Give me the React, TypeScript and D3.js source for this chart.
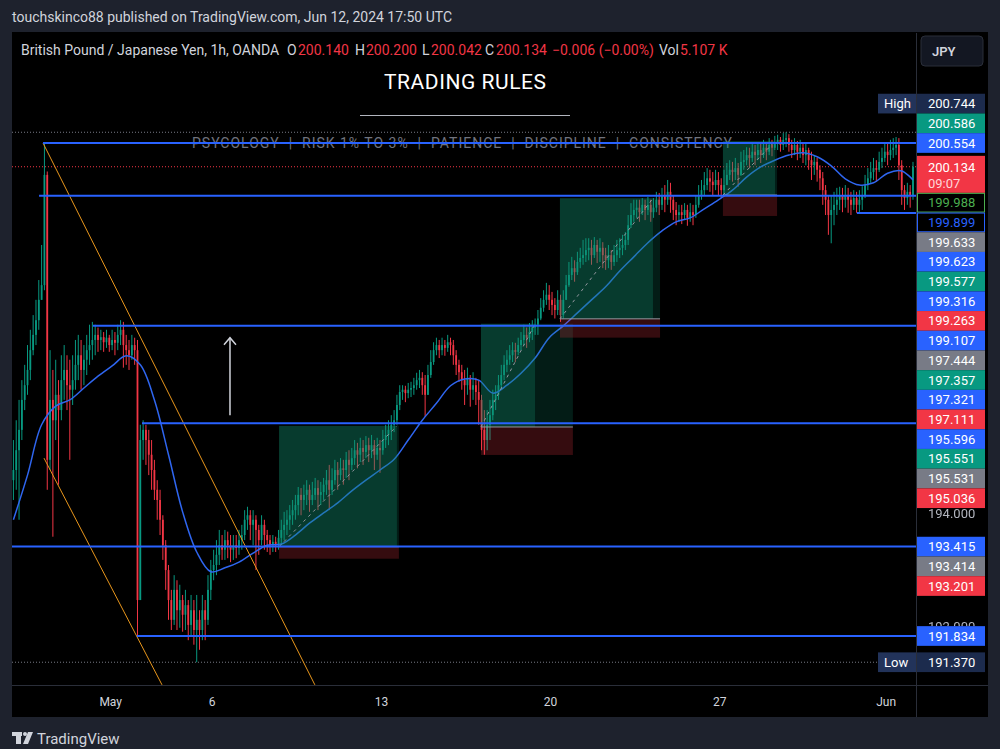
import React from 'react';
import * as d3 from 'd3';

// GBPJPY 1h (drawn as 2h bars), OANDA
const firstOpen = 194.59;

const closes = [
  194.77, 195.12, 195.48, 196.01, 196.27, 196.54, 196.89, 197.16, 197.42, 197.78,
  198.04, 199.99, 194.95, 196.01, 195.65, 196.10, 195.83, 196.36, 196.54, 196.27,
  196.19, 196.36, 196.63, 196.80, 196.54, 196.72, 196.89, 196.98, 197.07, 197.16,
  197.07, 197.12, 197.03, 197.11, 196.98, 197.07, 197.02, 197.16, 197.25, 196.98,
  196.89, 196.80, 196.98, 196.89, 192.47, 195.30, 195.48, 195.30, 195.04, 194.77,
  194.42, 194.24, 193.89, 193.44, 193.00, 192.47, 192.12, 192.65, 192.29, 192.47,
  192.21, 192.38, 192.03, 192.29, 191.94, 192.12, 191.94, 192.29, 192.12, 192.65,
  193.00, 193.09, 193.27, 193.44, 193.36, 193.53, 193.44, 193.36, 193.44, 193.39,
  193.53, 193.62, 193.89, 193.97, 193.80, 193.89, 193.71, 193.53, 193.80, 193.62,
  193.53, 193.44, 193.50, 193.44, 193.57, 193.71, 193.80, 193.89, 193.97, 194.06,
  194.15, 194.33, 194.24, 194.33, 194.42, 194.24, 194.33, 194.45, 194.33, 194.38,
  194.51, 194.59, 194.42, 194.59, 194.77, 194.68, 194.80, 194.77, 194.95, 194.86,
  194.98, 195.12, 195.04, 195.16, 195.09, 195.21, 195.12, 195.21, 195.04, 195.16,
  195.12, 195.30, 195.39, 195.48, 195.57, 195.65, 195.92, 196.15, 196.19, 196.13,
  196.19, 196.22, 196.27, 196.36, 196.40, 196.27, 196.10, 196.45, 196.68, 196.89,
  196.98, 196.89, 196.98, 196.93, 197.03, 196.98, 196.80, 196.63, 196.50, 196.36,
  196.27, 196.40, 196.19, 196.27, 196.15, 196.01, 195.48, 195.30, 195.57, 195.74,
  196.01, 196.10, 196.27, 196.45, 196.63, 196.72, 196.80, 196.89, 196.86, 196.98,
  197.07, 197.16, 197.11, 197.21, 197.29, 197.34, 197.45, 197.64, 197.78, 197.87,
  197.78, 197.69, 197.60, 197.78, 197.51, 197.78, 198.04, 198.22, 198.34, 198.27,
  198.45, 198.52, 198.57, 198.66, 198.70, 198.57, 198.75, 198.63, 198.70, 198.57,
  198.48, 198.57, 198.45, 198.57, 198.66, 198.70, 198.75, 198.84, 199.10, 199.28,
  199.37, 199.41, 199.33, 199.46, 199.37, 199.46, 199.33, 199.41, 199.55, 199.46,
  199.63, 199.55, 199.69, 199.55, 199.37, 199.28, 199.33, 199.28, 199.37, 199.23,
  199.33, 199.28, 199.46, 199.63, 199.72, 199.81, 199.93, 199.87, 199.81, 199.90,
  199.81, 199.72, 199.81, 199.99, 200.08, 200.04, 200.11, 199.99, 200.22, 200.25,
  200.34, 200.29, 200.40, 200.34, 200.43, 200.34, 200.47, 200.40, 200.52, 200.47,
  200.57, 200.61, 200.52, 200.61, 200.64, 200.52, 200.43, 200.52, 200.40, 200.47,
  200.34, 200.43, 200.25, 200.16, 200.22, 200.08, 199.93, 199.72, 199.55, 199.28,
  199.37, 199.46, 199.55, 199.63, 199.55, 199.63, 199.55, 199.46, 199.58, 199.46,
  199.55, 199.63, 199.81, 199.93, 200.04, 200.11, 200.08, 200.22, 200.29, 200.40,
  200.34, 200.43, 200.47, 200.52, 200.16, 199.72, 199.58, 199.69, 199.63, 200.134,
];

const highs = [
  195.30, 195.65, 196.01, 196.36, 196.63, 196.98, 197.25, 197.51, 197.78, 198.13,
  198.75, 200.554, 200.05, 196.89, 196.54, 196.72, 196.36, 196.80, 196.98, 196.80,
  196.72, 196.80, 197.07, 197.16, 197.07, 196.98, 197.16, 197.34, 197.39, 197.34,
  197.29, 197.25, 197.21, 197.25, 197.16, 197.25, 197.21, 197.34, 197.42, 197.39,
  197.16, 197.07, 197.16, 197.11, 197.07, 195.57, 195.65, 195.57, 195.48, 195.30,
  194.95, 194.59, 194.42, 193.97, 193.53, 193.09, 192.65, 192.91, 192.82, 192.74,
  192.56, 192.65, 192.47, 192.56, 192.47, 192.56, 192.29, 192.56, 192.47, 192.91,
  193.18, 193.36, 193.53, 193.71, 193.62, 193.71, 193.68, 193.62, 193.62, 193.62,
  193.71, 193.80, 194.06, 194.12, 194.06, 194.06, 193.97, 193.80, 193.97, 193.89,
  193.71, 193.62, 193.62, 193.59, 193.71, 193.89, 194.03, 194.06, 194.15, 194.24,
  194.33, 194.47, 194.45, 194.51, 194.59, 194.51, 194.56, 194.63, 194.59, 194.56,
  194.63, 194.77, 194.86, 194.80, 194.95, 194.91, 194.98, 194.95, 195.09, 195.12,
  195.16, 195.30, 195.25, 195.34, 195.30, 195.37, 195.34, 195.39, 195.30, 195.34,
  195.30, 195.48, 195.57, 195.65, 195.74, 195.83, 196.10, 196.27, 196.27, 196.26,
  196.31, 196.33, 196.40, 196.49, 196.54, 196.50, 196.45, 196.63, 196.89, 197.03,
  197.11, 197.07, 197.11, 197.07, 197.16, 197.11, 197.07, 196.89, 196.72, 196.63,
  196.54, 196.58, 196.45, 196.50, 196.40, 196.36, 196.10, 195.83, 195.83, 196.01,
  196.19, 196.27, 196.45, 196.63, 196.80, 196.89, 196.98, 197.03, 197.02, 197.11,
  197.21, 197.34, 197.29, 197.37, 197.42, 197.45, 197.60, 197.81, 197.95, 198.08,
  198.04, 197.92, 197.81, 197.95, 197.87, 197.95, 198.22, 198.45, 198.54, 198.48,
  198.63, 198.70, 198.84, 198.87, 198.87, 198.84, 198.89, 198.84, 198.87, 198.80,
  198.70, 198.75, 198.66, 198.75, 198.84, 198.87, 198.93, 198.98, 199.28, 199.49,
  199.55, 199.55, 199.55, 199.58, 199.55, 199.60, 199.55, 199.58, 199.69, 199.67,
  199.76, 199.81, 199.90, 199.85, 199.63, 199.51, 199.46, 199.46, 199.49, 199.46,
  199.49, 199.46, 199.62, 199.81, 199.90, 200.04, 200.11, 200.08, 200.04, 200.08,
  200.04, 199.93, 200.08, 200.20, 200.25, 200.22, 200.29, 200.20, 200.40, 200.43,
  200.48, 200.47, 200.54, 200.52, 200.57, 200.54, 200.61, 200.57, 200.64, 200.61,
  200.68, 200.70, 200.66, 200.73, 200.744, 200.71, 200.61, 200.64, 200.59, 200.61,
  200.55, 200.57, 200.47, 200.40, 200.34, 200.29, 200.16, 200.04, 199.81, 199.63,
  199.63, 199.69, 199.76, 199.78, 199.76, 199.81, 199.76, 199.69, 199.72, 199.69,
  199.72, 199.79, 199.99, 200.11, 200.22, 200.29, 200.25, 200.40, 200.47, 200.57,
  200.55, 200.61, 200.64, 200.66, 200.64, 200.25, 199.81, 199.85, 199.81, 200.22,
];

const lows = [
  194.24, 194.42, 193.89, 195.30, 195.83, 196.10, 196.36, 196.80, 196.98, 197.25,
  197.78, 197.95, 194.42, 194.77, 193.59, 195.30, 194.51, 195.65, 196.01, 195.83,
  194.95, 195.92, 196.19, 196.36, 196.19, 196.27, 196.45, 196.63, 196.72, 196.80,
  196.86, 196.89, 196.86, 196.93, 196.86, 196.89, 196.80, 196.89, 196.98, 196.58,
  196.63, 196.54, 196.72, 196.63, 191.83, 192.47, 194.95, 194.86, 194.68, 194.42,
  194.24, 193.89, 193.62, 193.18, 192.65, 192.12, 191.94, 192.03, 191.94, 191.98,
  191.91, 191.94, 191.76, 191.85, 191.68, 191.37, 191.59, 191.76, 191.76, 192.03,
  192.47, 192.82, 192.91, 193.09, 193.18, 193.18, 193.21, 193.14, 193.18, 193.21,
  193.27, 193.36, 193.53, 193.71, 193.53, 193.44, 193.00, 193.27, 193.44, 193.36,
  193.32, 193.27, 193.32, 193.32, 193.36, 193.44, 193.53, 193.62, 193.71, 193.80,
  193.89, 193.97, 193.97, 194.06, 194.15, 194.03, 194.15, 194.24, 194.06, 194.15,
  194.24, 194.33, 194.06, 194.33, 194.51, 194.42, 194.59, 194.51, 194.63, 194.59,
  194.77, 194.86, 194.80, 194.91, 194.86, 194.98, 194.91, 194.98, 194.77, 194.95,
  194.72, 195.04, 195.16, 195.21, 195.30, 195.44, 195.57, 195.83, 196.01, 195.97,
  196.04, 196.06, 196.10, 196.19, 196.22, 196.10, 195.71, 196.10, 196.40, 196.63,
  196.80, 196.75, 196.80, 196.79, 196.86, 196.80, 196.63, 196.45, 196.33, 196.19,
  195.92, 196.10, 195.89, 196.01, 195.92, 195.57, 195.12, 195.04, 195.12, 195.30,
  195.65, 195.83, 196.01, 196.19, 196.36, 196.50, 196.63, 196.68, 196.68, 196.80,
  196.89, 196.98, 196.93, 197.03, 197.07, 197.16, 197.16, 197.42, 197.57, 197.69,
  197.60, 197.51, 197.45, 197.51, 197.39, 197.45, 197.78, 198.01, 198.13, 198.10,
  198.22, 198.34, 198.40, 198.45, 198.48, 198.40, 198.52, 198.43, 198.45, 198.34,
  198.31, 198.34, 198.31, 198.38, 198.45, 198.52, 198.57, 198.66, 198.75, 199.05,
  199.16, 199.23, 199.16, 199.28, 199.19, 199.28, 199.16, 199.23, 199.33, 199.28,
  199.37, 199.33, 199.46, 199.32, 199.19, 199.10, 199.16, 199.12, 199.19, 199.09,
  199.16, 199.10, 199.23, 199.41, 199.55, 199.63, 199.72, 199.69, 199.63, 199.72,
  199.62, 199.58, 199.63, 199.81, 199.90, 199.87, 199.90, 199.78, 199.97, 200.08,
  200.16, 200.11, 200.22, 200.16, 200.25, 200.20, 200.29, 200.25, 200.34, 200.32,
  200.43, 200.43, 200.40, 200.43, 200.48, 200.40, 200.29, 200.34, 200.25, 200.29,
  200.20, 200.16, 200.08, 199.90, 199.99, 199.87, 199.72, 199.46, 199.28, 198.93,
  198.78, 199.10, 199.28, 199.37, 199.33, 199.41, 199.32, 199.28, 199.37, 199.32,
  199.33, 199.37, 199.58, 199.72, 199.85, 199.90, 199.87, 200.04, 200.11, 200.22,
  200.16, 200.25, 200.29, 200.34, 199.90, 199.46, 199.37, 199.46, 199.41, 199.55,
];

// moving average, one reading every 5 bars
const emaStep = 5;
const ema = [
  193.89, 194.68, 195.57, 195.90, 196.01, 196.22, 196.43, 196.61, 196.79, 196.63,
  196.01, 195.04, 194.03, 193.32, 192.97, 193.04, 193.14, 193.30, 193.44, 193.46,
  193.62, 193.83, 194.01, 194.19, 194.40, 194.59, 194.77, 194.96, 195.30, 195.65,
  195.95, 196.26, 196.38, 196.36, 196.13, 196.27, 196.48, 196.75, 197.11, 197.32,
  197.55, 197.78, 198.01, 198.29, 198.54, 198.79, 199.00, 199.16, 199.23, 199.39,
  199.55, 199.72, 199.95, 200.13, 200.25, 200.34, 200.38, 200.31, 200.15, 199.92,
  199.81, 199.85, 200.02, 200.06, 199.90,
];

const timeLabels = ['May', '6', '13', '20', '27', 'Jun'];
const timeLabelBars = [35, 71, 131, 191, 251, 310];

const priceTicks = [200, 199, 198, 197, 196, 195, 194, 193, 192];

// horizontal levels (price, first bar)
const levelPrices = [200.554, 199.623, 199.316, 197.321, 195.596, 193.415, 191.834];
const levelStarts = [11, 9.6, 299.6, 28.7, 46.1, -5, 44.3];

// long position tools
const posStart = [94.7, 166.3, 194.3, 252.1];
const posClose = [136.5, 185.5, 227.3, 270.6];
const posEnd = [137.2, 198.9, 229.8, 271.3];
const posEntry = [193.414, 195.531, 197.444, 199.633];
const posTarget = [195.551, 197.357, 199.577, 200.586];
const posStop = [193.201, 195.036, 197.111, 199.263];

// orange channel
const channelUpper = [[11.0, 200.554], [107.4, 190.97]];
const channelLower = [[11.35, 194.98], [53.2, 190.97]];

const arrowBar = 77.3;
const arrowFrom = 195.74;
const arrowTo = 197.11;

const highValue = 200.744;
const lowValue = 191.37;
const lastValue = 200.134;

const labelValues = [
  200.744, 200.586, 200.554, 200.134, 199.988, 199.899, 199.633, 199.623, 199.577,
  199.316, 199.263, 199.107, 197.444, 197.357, 197.321, 197.111, 195.596, 195.551,
  195.531, 195.036, 193.415, 193.414, 193.201, 191.834, 191.37,
];
const labelKinds = [
  'high', 'green', 'blue', 'current', 'outlineGreen', 'outlineBlue', 'grey', 'blue', 'green',
  'blue', 'red', 'blue', 'grey', 'green', 'blue', 'red', 'blue', 'green',
  'grey', 'red', 'blue', 'grey', 'red', 'blue', 'low',
];
const anchorLabel = 200.554;

const GREEN = '#089981';
const RED = '#f23645';
const BLUE = '#2962ff';
const FONT = 'Roboto, "DejaVu Sans", sans-serif';

const W = 1000;
const H = 749;
const plotL = 12;
const plotR = 916;
const plotT = 33;
const plotB = 685;

const x = d3.scaleLinear().domain([0, 320]).range([12, 914.4]);
const y = d3.scaleLinear().domain([191.834, 200.554]).range([636, 143]);

const kindFill: Record<string, string> = {
  blue: BLUE, green: GREEN, red: RED, grey: '#787b86', current: RED,
  outlineGreen: '#000', outlineBlue: '#000', high: '#1c2b4d', low: '#1c2b4d',
};

function layoutLabels() {
  const ROW = 19.7;
  const items = labelValues.map((v, i) => ({
    v, kind: labelKinds[i], h: labelKinds[i] === 'current' ? 40 : ROW, top: 0,
  }));
  items.sort((a, b) => b.v - a.v);
  const a = items.findIndex(d => d.v === anchorLabel);
  items[a].top = y(items[a].v) - items[a].h / 2;
  for (let i = a + 1; i < items.length; i++) {
    const p = items[i - 1];
    items[i].top = Math.max(y(items[i].v) - items[i].h / 2, p.top + p.h);
  }
  for (let i = a - 1; i >= 0; i--) {
    const n = items[i + 1];
    items[i].top = Math.min(y(items[i].v) - items[i].h / 2, n.top - items[i].h);
  }
  return items;
}

const App: React.FC = () => {
  const emaLine = d3.line<number>()
    .x((_, j) => x(Math.min(j * emaStep, 319) + 0.5))
    .y(d => y(d))
    .curve(d3.curveCatmullRom)(ema);

  const labels = layoutLabels();
  // price ticks that are not buried under a label (partly covered ones are masked)
  const visibleTicks = priceTicks.filter(p => {
    const ty = y(p);
    return !labels.some(d => ty > d.top + 2 && ty < d.top + d.h);
  });

  return (
    <div style={{ position: 'fixed', left: 0, top: 0 }}>
      <svg width={W} height={H} style={{ display: 'block', fontFamily: FONT }}>
        <defs>
          <clipPath id="plot">
            <rect x={plotL} y={plotT} width={plotR - plotL} height={plotB - plotT} />
          </clipPath>
          <mask id="axisMask">
            <rect x={plotR} y={0} width={W - plotR} height={H} fill="#fff" />
            {labels.map((d, i) => (
              <rect key={i} x={plotR} y={d.top} width={W - plotR} height={d.h} fill="#000" />
            ))}
          </mask>
        </defs>
        <rect width={W} height={H} fill="#1e222d" />
        <text x={12} y={22} fontSize={14} fill="#d1d4dc">
          touchskinco88 published on TradingView.com, Jun 12, 2024 17:50 UTC
        </text>
        <rect x={12} y={32} width={976} height={685} fill="#000" />

        <g clipPath="url(#plot)">
          {/* dotted high / low / last */}
          <line x1={plotL} x2={plotR} y1={y(highValue)} y2={y(highValue)} stroke="#787b86" strokeDasharray="1 2" />
          <line x1={plotL} x2={plotR} y1={y(lowValue)} y2={y(lowValue)} stroke="#787b86" strokeDasharray="1 2" />
          <line x1={plotL} x2={plotR} y1={y(lastValue)} y2={y(lastValue)} stroke={RED} strokeDasharray="1 2" />

          <text x={462} y={148} fontSize={14} fill="#70737e" textAnchor="middle" xmlSpace="preserve" textLength={540}>
            {'PSYCOLOGY  |  RISK 1% TO 3%  |  PATIENCE  |  DISCIPLINE  |  CONSISTENCY'}
          </text>

          {closes.map((c, i) => {
            const o = i === 0 ? firstOpen : closes[i - 1];
            const hi = Math.max(highs[i], o, c);
            const lo = Math.min(lows[i], o, c);
            const col = c >= o ? GREEN : RED;
            const cx = x(i + 0.5);
            const yt = y(Math.max(o, c));
            const yb = y(Math.min(o, c));
            return (
              <g key={i}>
                <line x1={cx} x2={cx} y1={y(hi)} y2={y(lo)} stroke={col} strokeWidth={1} />
                <rect x={cx - 0.9} width={1.8} y={yt} height={Math.max(1, yb - yt)} fill={col} />
              </g>
            );
          })}

          <path d={emaLine ?? ''} fill="none" stroke="#2f66f0" strokeWidth={1.5} />

          {posStart.map((s, i) => (
            <g key={i}>
              <rect x={x(s)} width={x(posClose[i]) - x(s)} y={y(posTarget[i])} height={y(posEntry[i]) - y(posTarget[i])} fill="rgba(16,140,110,0.42)" />
              <rect x={x(posClose[i])} width={x(posEnd[i]) - x(posClose[i])} y={y(posTarget[i])} height={y(posEntry[i]) - y(posTarget[i])} fill="rgba(16,140,110,0.2)" />
              <rect x={x(s)} width={x(posEnd[i]) - x(s)} y={y(posEntry[i])} height={y(posStop[i]) - y(posEntry[i])} fill="rgba(242,54,69,0.22)" />
              <line x1={x(s)} x2={x(posEnd[i])} y1={y(posEntry[i])} y2={y(posEntry[i])} stroke="#9598a1" strokeWidth={1} />
              <line x1={x(s)} x2={x(posClose[i])} y1={y(posEntry[i])} y2={y(posTarget[i])} stroke="#9598a1" strokeWidth={1} strokeDasharray="3 4" />
            </g>
          ))}

          <line x1={x(channelUpper[0][0])} y1={y(channelUpper[0][1])} x2={x(channelUpper[1][0])} y2={y(channelUpper[1][1])} stroke="#e8961c" strokeWidth={1} />
          <line x1={x(channelLower[0][0])} y1={y(channelLower[0][1])} x2={x(channelLower[1][0])} y2={y(channelLower[1][1])} stroke="#e8961c" strokeWidth={1} />

          {levelPrices.map((p, i) => (
            <line key={i} x1={x(levelStarts[i])} x2={plotR} y1={y(p)} y2={y(p)} stroke={BLUE} strokeWidth={2} />
          ))}

          <g stroke="#d1d4dc" strokeWidth={1.5} fill="none">
            <line x1={x(arrowBar)} x2={x(arrowBar)} y1={y(arrowFrom)} y2={y(arrowTo)} />
            <polyline points={`${x(arrowBar) - 6},${y(arrowTo) + 7} ${x(arrowBar)},${y(arrowTo)} ${x(arrowBar) + 6},${y(arrowTo) + 7}`} />
          </g>
        </g>

        {/* legend */}
        <g fontSize={14}>
          <text x={21} y={55} fill="#d1d4dc">British Pound / Japanese Yen, 1h, OANDA</text>
          <text x={287} y={55} fill="#d1d4dc">O</text>
          <text x={298} y={55} fill={RED}>200.140</text>
          <text x={355} y={55} fill="#d1d4dc">H</text>
          <text x={366} y={55} fill={RED}>200.200</text>
          <text x={422} y={55} fill="#d1d4dc">L</text>
          <text x={431} y={55} fill={RED}>200.042</text>
          <text x={485} y={55} fill="#d1d4dc">C</text>
          <text x={496} y={55} fill={RED}>200.134</text>
          <text x={552} y={55} fill={RED}>−0.006 (−0.00%)</text>
          <text x={659} y={55} fill="#d1d4dc">Vol</text>
          <text x={680} y={55} fill={RED}>5.107 K</text>
        </g>
        <rect x={921} y={36} width={62} height={30} rx={4} fill="#131722" stroke="#2a2e39" />
        <text x={932} y={56} fontSize={13} fontWeight={600} fill="#d1d4dc">JPY</text>

        <text x={465} y={89} fontSize={21} fill="#fff" textAnchor="middle" textLength={162}>TRADING RULES</text>
        <line x1={360} x2={570} y1={115.5} y2={115.5} stroke="#b2b5be" strokeWidth={1} />

        {/* axes frames */}
        <line x1={plotL} x2={988} y1={plotB + 0.5} y2={plotB + 0.5} stroke="#2a2e39" />
        <line x1={plotR + 0.5} x2={plotR + 0.5} y1={plotT} y2={717} stroke="#2a2e39" />

        {timeLabels.map((t, i) => (
          <text key={t} x={x(timeLabelBars[i])} y={706} fontSize={12} fill="#d1d4dc" textAnchor="middle">{t}</text>
        ))}

        <g mask="url(#axisMask)">
          {visibleTicks.map(p => (
            <text key={p} x={928} y={y(p) + 4.5} fontSize={13} fill="#b2b5be">{p.toFixed(3)}</text>
          ))}
        </g>

        {labels.map((d, i) => {
          const fill = kindFill[d.kind];
          if (d.kind === 'current') {
            return (
              <g key={i}>
                <rect x={917} y={d.top + 3} width={68} height={d.h - 3} fill={fill} />
                <text x={928} y={d.top + 19} fontSize={13} fill="#fff">{d.v.toFixed(3)}</text>
                <text x={928} y={d.top + 35} fontSize={13} fill="#ffd6d9">09:07</text>
              </g>
            );
          }
          const outline = d.kind === 'outlineGreen' ? '#4caf50' : d.kind === 'outlineBlue' ? BLUE : null;
          const txt = outline ?? '#fff';
          return (
            <g key={i}>
              {(d.kind === 'high' || d.kind === 'low') && (
                <g>
                  <rect x={878} y={d.top} width={38} height={d.h} fill="#22335a" />
                  <text x={884} y={d.top + d.h / 2 + 4.5} fontSize={13} fill="#fff">{d.kind === 'high' ? 'High' : 'Low'}</text>
                </g>
              )}
              <rect x={outline ? 917.5 : 917} y={outline ? d.top + 0.5 : d.top} width={outline ? 67 : 68} height={outline ? d.h - 1 : d.h}
                fill={fill} stroke={outline ?? 'none'} />
              <text x={928} y={d.top + d.h / 2 + 4.5} fontSize={13} fill={txt}>{d.v.toFixed(3)}</text>
            </g>
          );
        })}

        {/* footer logo */}
        <g fill="#d1d4dc">
          <rect x={12} y={732} width={10} height={4} />
          <rect x={16} y={732} width={5} height={12} />
          <circle cx={25} cy={734} r={2} />
          <polygon points="28,732 33,732 28,744 23,744" />
        </g>
        <text x={37} y={744} fontSize={15} fill="#d1d4dc">TradingView</text>
      </svg>
    </div>
  );
};

export default App;
